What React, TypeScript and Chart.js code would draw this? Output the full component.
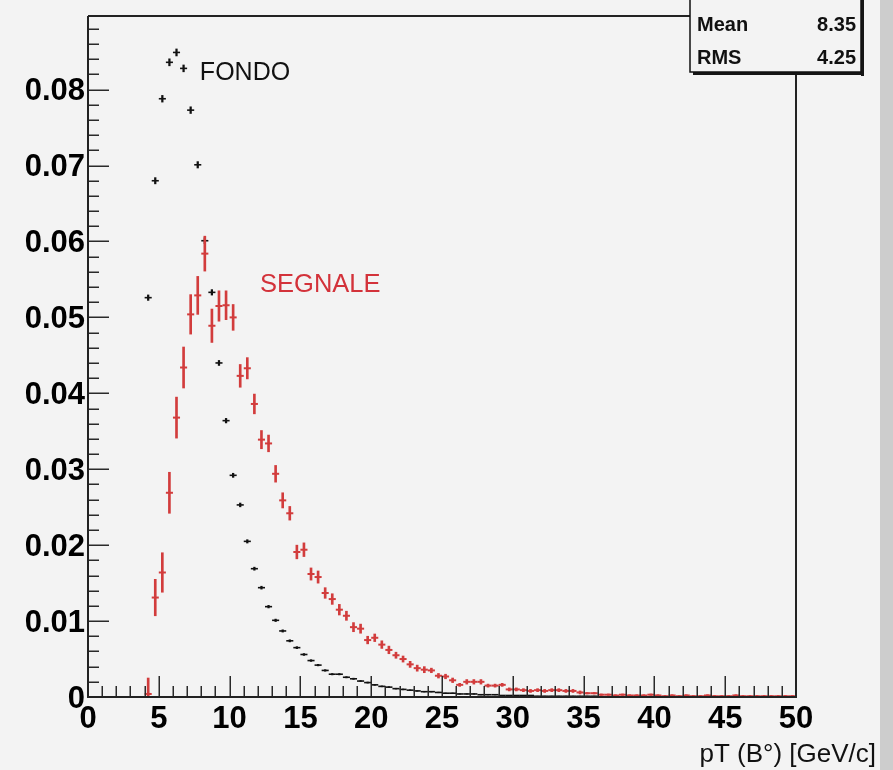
import React, { useEffect, useRef } from 'react';
import { Chart, registerables } from 'chart.js';

Chart.register(...registerables);

// Histogram bin centres (bin width 0.5 GeV/c), first filled bin is [4, 4.5]
const BIN_CENTERS = [
  4.25, 4.75, 5.25, 5.75, 6.25, 6.75, 7.25, 7.75, 8.25, 8.75,
  9.25, 9.75, 10.25, 10.75, 11.25, 11.75, 12.25, 12.75, 13.25, 13.75,
  14.25, 14.75, 15.25, 15.75, 16.25, 16.75, 17.25, 17.75, 18.25, 18.75,
  19.25, 19.75, 20.25, 20.75, 21.25, 21.75, 22.25, 22.75, 23.25, 23.75,
  24.25, 24.75, 25.25, 25.75, 26.25, 26.75, 27.25, 27.75, 28.25, 28.75,
  29.25, 29.75, 30.25, 30.75, 31.25, 31.75, 32.25, 32.75, 33.25, 33.75,
  34.25, 34.75, 35.25, 35.75, 36.25, 36.75, 37.25, 37.75, 38.25, 38.75,
  39.25, 39.75, 40.25, 40.75, 41.25, 41.75, 42.25, 42.75, 43.25, 43.75,
  44.25, 44.75, 45.25, 45.75, 46.25, 46.75, 47.25, 47.75, 48.25, 48.75,
  49.25, 49.75,
];

// SEGNALE (signal, red)
const SEGNALE_VALUES = [
  0.0004, 0.0131, 0.0164, 0.0269, 0.0368, 0.0434, 0.0504, 0.0529, 0.0584, 0.0489,
  0.0515, 0.0516, 0.0500, 0.0423, 0.0433, 0.0386, 0.0339, 0.0334, 0.0294, 0.0259,
  0.0242, 0.0191, 0.0194, 0.0162, 0.0158, 0.0137, 0.0129, 0.0115, 0.0107, 0.0092,
  0.0090, 0.0075, 0.0078, 0.0069, 0.0062, 0.0055, 0.0050, 0.0043, 0.0038, 0.0036,
  0.0035, 0.0028, 0.0027, 0.0022, 0.0016, 0.0020, 0.0020, 0.0020, 0.0015, 0.0015,
  0.0016, 0.0010, 0.0010, 0.0009, 0.0008, 0.0009, 0.0008, 0.0009, 0.0009, 0.0008,
  0.0008, 0.0006, 0.0005, 0.0005, 0.0003, 0.0003, 0.0002, 0.0003, 0.0002, 0.0002,
  0.0002, 0.0003, 0.0002, 0.0001, 0.0002, 0.0001, 0.0002, 0.0001, 0.0001, 0.0002,
  0.0001, 0.0001, 0.0001, 0.0002, 0.0001, 0.0001, 0.0001, 0.0001, 0.0001, 0.0001,
  0.0001, 0.0001,
];
const SEGNALE_ERRORS = [
  0.0021, 0.0024, 0.0026, 0.0027, 0.0027, 0.0027, 0.0026, 0.0025, 0.0023, 0.0022,
  0.0020, 0.0019, 0.0017, 0.0015, 0.0014, 0.0013, 0.0012, 0.0011, 0.0011, 0.0010,
  0.0009, 0.0009, 0.0009, 0.0008, 0.0008, 0.0007, 0.0007, 0.0007, 0.0006, 0.0006,
  0.0006, 0.0005, 0.0005, 0.0005, 0.0005, 0.0004, 0.0004, 0.0004, 0.0004, 0.0004,
  0.0003, 0.0003, 0.0003, 0.0003, 0.0002, 0.0003, 0.0003, 0.0003, 0.0002, 0.0002,
  0.0002, 0.0002, 0.0002, 0.0002, 0.0002, 0.0002, 0.0002, 0.0002, 0.0002, 0.0002,
  0.0002, 0.0002, 0.0001, 0.0001, 0.0001, 0.0001, 0.0001, 0.0001, 0.0001, 0.0001,
  0.0001, 0.0001, 0.0001, 0.0001, 0.0001, 0.0001, 0.0001, 0.0001, 0.0001, 0.0001,
  0.0001, 0.0001, 0.0001, 0.0001, 0.0001, 0.0001, 0.0001, 0.0001, 0.0001, 0.0001,
  0.0001, 0.0001,
];

// FONDO (background, black)
const FONDO_VALUES = [
  0.0526, 0.0680, 0.0788, 0.0836, 0.0849, 0.0828, 0.0773, 0.0701, 0.0601, 0.0533,
  0.0440, 0.0364, 0.0292, 0.0253, 0.0205, 0.0169, 0.0144, 0.0119, 0.0101, 0.0087,
  0.0074, 0.0065, 0.0056, 0.0048, 0.0042, 0.0035, 0.0030, 0.0030, 0.0026, 0.0024,
  0.0021, 0.0019, 0.0016, 0.0014, 0.0013, 0.0011, 0.0010, 0.0009, 0.0008, 0.0007,
  0.0007, 0.0006, 0.0005, 0.0005, 0.0004, 0.0004, 0.0004, 0.0003, 0.0003, 0.0003,
  0.0002, 0.0002, 0.0002, 0.0002, 0.0002, 0.0001, 0.0001, 0.0001, 0.0001, 0.0001,
  0.0001, 0.0001, 0.0001, 0.0001,
];
const FONDO_ERRORS = [
  0.00036, 0.00041, 0.00044, 0.00046, 0.00046, 0.00045, 0.00044, 0.00042, 0.00039, 0.00036,
  0.00033, 0.00030, 0.00027, 0.00025, 0.00022, 0.00020, 0.00019, 0.00017, 0.00016, 0.00015,
  0.00014, 0.00013, 0.00012, 0.00011, 0.00010, 0.00010, 0.00009, 0.00009, 0.00008, 0.00008,
  0.00007, 0.00007, 0.00006, 0.00006, 0.00006, 0.00005, 0.00005, 0.00005, 0.00004, 0.00004,
  0.00004, 0.00004, 0.00003, 0.00003, 0.00003, 0.00003, 0.00003, 0.00002, 0.00002, 0.00002,
  0.00002, 0.00002, 0.00002, 0.00002, 0.00002, 0.00001, 0.00001, 0.00001, 0.00001, 0.00001,
  0.00001, 0.00001, 0.00001, 0.00001,
];

const X_TICKS = [0, 5, 10, 15, 20, 25, 30, 35, 40, 45, 50];
const X_TICK_LABELS = ['0', '5', '10', '15', '20', '25', '30', '35', '40', '45', '50'];
const Y_TICKS = [0, 0.01, 0.02, 0.03, 0.04, 0.05, 0.06, 0.07, 0.08];
const Y_TICK_LABELS = ['0', '0.01', '0.02', '0.03', '0.04', '0.05', '0.06', '0.07', '0.08'];
const X_MIN = 0;
const X_MAX = 50;
const Y_MIN = 0;
const Y_MAX = 0.0897;
const X_TITLE = 'pT (B°) [GeV/c]';
const STATS = [
  ['Mean', '8.35'],
  ['RMS', '4.25'],
];
const LABEL_FONDO = 'FONDO';
const LABEL_SEGNALE = 'SEGNALE';

const FONT = '"Liberation Sans", Arial, Helvetica, sans-serif';
const BG = '#f3f3f3';
const RED = '#d23c3c';
const RED_TEXT = '#d3323a';
const BLACK = '#111111';

const rootPlugin = {
  id: 'rootStyle',
  beforeDraw(chart: any) {
    const { ctx, width, height } = chart;
    ctx.save();
    ctx.fillStyle = BG;
    ctx.fillRect(0, 0, width, height);
    ctx.fillStyle = '#cdcdcd';
    ctx.fillRect(880, 0, width - 880, height);
    ctx.restore();
  },
  afterDatasetsDraw(chart: any) {
    const { ctx, chartArea } = chart;
    const xs = chart.scales.x;
    const ys = chart.scales.y;
    const { left, right, top, bottom } = chartArea;
    ctx.save();
    // inward ticks
    ctx.strokeStyle = '#2a2a2a';
    ctx.lineWidth = 1.5;
    ctx.beginPath();
    for (let v = 0; v <= 0.0881; v += 0.002) {
      const py = Math.round(ys.getPixelForValue(v)) + 0.25;
      const major = Math.abs(v / 0.01 - Math.round(v / 0.01)) < 1e-6;
      ctx.moveTo(left, py);
      ctx.lineTo(left + (major ? 21 : 11), py);
    }
    for (let v = 1; v < 50; v += 1) {
      const px = Math.round(xs.getPixelForValue(v)) + 0.25;
      const major = v % 5 === 0;
      ctx.moveTo(px, bottom);
      ctx.lineTo(px, bottom - (major ? 21 : 11));
    }
    ctx.stroke();
    // frame
    ctx.strokeStyle = '#222222';
    ctx.lineWidth = 2;
    ctx.beginPath();
    ctx.moveTo(left, top);
    ctx.lineTo(left, bottom);
    ctx.lineTo(right, bottom);
    ctx.lineTo(right, top);
    ctx.lineTo(left, top);
    ctx.stroke();

    // annotations
    ctx.textBaseline = 'alphabetic';
    ctx.textAlign = 'left';
    ctx.font = `25px ${FONT}`;
    ctx.fillStyle = BLACK;
    ctx.fillText(LABEL_FONDO, xs.getPixelForValue(7.9), ys.getPixelForValue(0.0813));
    ctx.fillStyle = RED_TEXT;
    ctx.font = `25.5px ${FONT}`;
    ctx.fillText(LABEL_SEGNALE, xs.getPixelForValue(12.15), ys.getPixelForValue(0.0533));

    // axis title
    ctx.fillStyle = BLACK;
    ctx.textAlign = 'right';
    ctx.font = `26px ${FONT}`;
    ctx.fillText(X_TITLE, 876, 762);

    // stats box
    const bx = 690, by = -6, bw = 171, bh = 78;
    ctx.fillStyle = '#151515';
    ctx.fillRect(bx + bw, by + 4, 3, bh);
    ctx.fillRect(bx + 3, by + bh, bw, 3);
    ctx.fillStyle = BG;
    ctx.fillRect(bx, by, bw, bh);
    ctx.strokeStyle = '#111';
    ctx.lineWidth = 1.5;
    ctx.strokeRect(bx, by, bw, bh);
    ctx.font = `bold 20px ${FONT}`;
    ctx.fillStyle = BLACK;
    STATS.forEach((row, i) => {
      const baseline = 31 + i * 33;
      ctx.textAlign = 'left';
      ctx.fillText(row[0], 697, baseline);
      ctx.textAlign = 'right';
      ctx.fillText(row[1], 856, baseline);
    });
    ctx.restore();
  },
};

export default function App() {
  const canvasRef = useRef<HTMLCanvasElement | null>(null);

  useEffect(() => {
    document.body.style.margin = '0';
    document.body.style.background = BG;
    const canvas = canvasRef.current;
    if (!canvas) return;

    const redErr = BIN_CENTERS.map((x, i) => ({
      x,
      y: [SEGNALE_VALUES[i] - SEGNALE_ERRORS[i], SEGNALE_VALUES[i] + SEGNALE_ERRORS[i]],
    }));
    const redPts = BIN_CENTERS.map((x, i) => ({ x, y: SEGNALE_VALUES[i] }));
    const blackErr = FONDO_VALUES.map((v, i) => ({
      x: BIN_CENTERS[i],
      y: [v - FONDO_ERRORS[i], v + FONDO_ERRORS[i]],
    }));
    const blackPts = FONDO_VALUES.map((v, i) => ({ x: BIN_CENTERS[i], y: v }));

    const tickFont = { family: FONT, size: 31, weight: 'bold' as const };

    const chart = new Chart(canvas, {
      type: 'scatter',
      data: {
        datasets: [
          {
            type: 'bar',
            label: 'FONDO err',
            data: blackErr as any,
            backgroundColor: BLACK,
            borderWidth: 0,
            barThickness: 1.6,
            grouped: false,
            order: 3,
          } as any,
          {
            type: 'scatter',
            label: 'FONDO',
            data: blackPts,
            pointStyle: 'line',
            pointRadius: 3.54,
            pointHoverRadius: 3.54,
            borderWidth: 1.6,
            pointBorderWidth: 1.6,
            borderColor: BLACK,
            backgroundColor: BLACK,
            showLine: false,
            order: 2,
          } as any,
          {
            type: 'bar',
            label: 'SEGNALE err',
            data: redErr as any,
            backgroundColor: RED,
            borderWidth: 0,
            barThickness: 2,
            grouped: false,
            order: 1,
          } as any,
          {
            type: 'scatter',
            label: 'SEGNALE',
            data: redPts,
            pointStyle: 'line',
            pointRadius: 3.54,
            pointHoverRadius: 3.54,
            borderWidth: 2,
            pointBorderWidth: 2,
            borderColor: RED,
            backgroundColor: RED,
            showLine: false,
            order: 0,
          } as any,
        ],
      },
      options: {
        animation: false,
        responsive: false,
        devicePixelRatio: 1,
        events: [],
        layout: { padding: { top: 16, right: 97, left: 0, bottom: 0 } },
        plugins: {
          legend: { display: false },
          tooltip: { enabled: false },
          title: { display: false },
        },
        scales: {
          x: {
            type: 'linear',
            position: 'bottom',
            min: X_MIN,
            max: X_MAX,
            offset: false,
            grid: { display: false, drawTicks: false, offset: false },
            border: { display: false },
            ticks: {
              padding: 4,
              color: '#000',
              font: tickFont,
              maxRotation: 0,
              autoSkip: false,
              callback: (v: any) => {
                const i = X_TICKS.indexOf(Number(v));
                return i >= 0 ? X_TICK_LABELS[i] : '';
              },
            },
            afterBuildTicks: (s: any) => {
              s.ticks = X_TICKS.map((value) => ({ value }));
            },
            afterFit: (s: any) => {
              s.height = 73;
              s.paddingLeft = 0;
              s.paddingRight = 0;
            },
          },
          y: {
            type: 'linear',
            position: 'left',
            min: Y_MIN,
            max: Y_MAX,
            grid: { display: false, drawTicks: false },
            border: { display: false },
            ticks: {
              padding: 3,
              labelOffset: 2,
              color: '#000',
              font: tickFont,
              autoSkip: false,
              callback: (v: any) => {
                const i = Y_TICKS.indexOf(Number(v));
                return i >= 0 ? Y_TICK_LABELS[i] : '';
              },
            },
            afterBuildTicks: (s: any) => {
              s.ticks = Y_TICKS.map((value) => ({ value }));
            },
            afterFit: (s: any) => {
              s.width = 88;
              s.paddingTop = 0;
              s.paddingBottom = 0;
            },
          },
        },
      } as any,
      plugins: [rootPlugin],
    });

    return () => {
      chart.destroy();
    };
  }, []);

  return (
    <div style={{ width: 893, height: 770, overflow: 'hidden', background: BG }}>
      <canvas ref={canvasRef} width={893} height={770} style={{ display: 'block', width: 893, height: 770 }} />
    </div>
  );
}
